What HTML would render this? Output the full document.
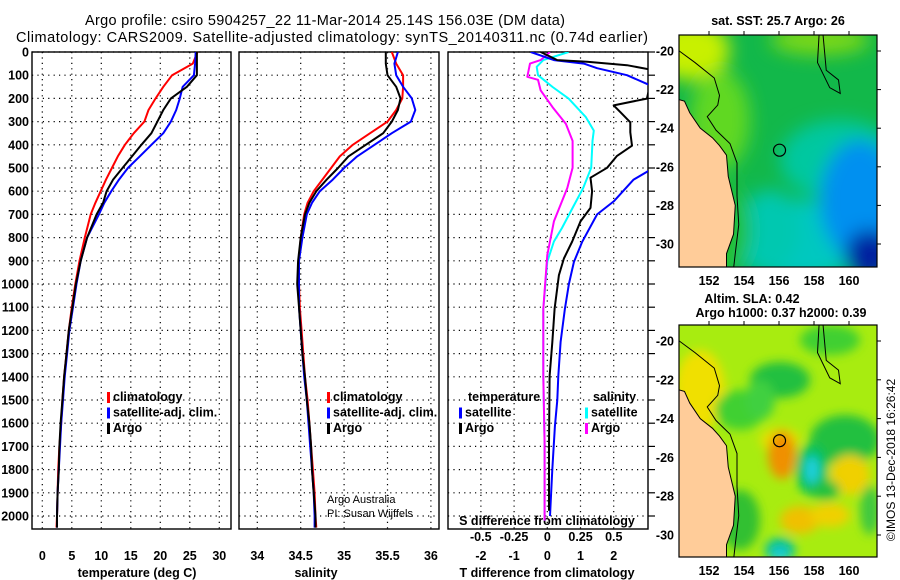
<!DOCTYPE html>
<html><head><meta charset="utf-8"><style>
body{margin:0;background:#fff;}
svg{display:block;font-family:"Liberation Sans",sans-serif;}
.t{font-size:12.5px;font-weight:bold;fill:#000}
</style></head><body>
<svg id="c" width="900" height="580" viewBox="0 0 900 580">
<defs>
<filter id="bl" x="-50%" y="-50%" width="200%" height="200%"><feGaussianBlur stdDeviation="9"/></filter>
<filter id="bl2" x="-50%" y="-50%" width="200%" height="200%"><feGaussianBlur stdDeviation="5"/></filter>
<clipPath id="m1"><rect x="679" y="35" width="198" height="232"/></clipPath>
<clipPath id="m2"><rect x="679" y="325" width="198" height="232"/></clipPath>
<clipPath id="p1"><rect x="32" y="52" width="199" height="477"/></clipPath>
<clipPath id="p2"><rect x="239" y="52" width="200" height="477"/></clipPath>
<clipPath id="p3"><rect x="448" y="52" width="200" height="477"/></clipPath>
</defs>
<text x="325" y="25" text-anchor="middle" font-size="14.5" textLength="480">Argo profile: csiro 5904257_22 11-Mar-2014 25.14S 156.03E (DM data)</text>
<text x="332" y="42" text-anchor="middle" font-size="14.5" textLength="632">Climatology: CARS2009. Satellite-adjusted climatology: synTS_20140311.nc (0.74d earlier)</text>
<g id="g"></g>
</svg>
<script>
// ---- data ----
const tDepth=[0,50,100,150,200,250,300,350,400,450,500,550,600,650,700,800,900,1000,1100,1200,1300,1400,1500,1600,1700,1800,1900,2000,2050];
const tClim=[26.3,25.5,22.0,20.5,19.2,18.0,17.3,15.5,14.0,12.8,11.8,10.8,9.9,9.0,8.2,7.2,6.3,5.6,5.0,4.5,4.1,3.7,3.4,3.2,2.9,2.7,2.6,2.5,2.4];
const tSat=[26.0,25.9,25.7,23.8,23.3,22.7,21.8,20.5,18.5,16.5,14.5,13.0,11.7,10.5,9.6,7.6,6.5,5.8,5.2,4.6,4.2,3.8,3.5,3.2,3.0,2.8,2.6,2.5,2.5];
const tArgo=[26.2,26.2,26.2,24.5,21.8,20.5,19.5,18.5,16.8,15.2,13.6,12.0,10.9,10.3,9.2,7.6,6.5,5.7,5.1,4.5,4.1,3.7,3.4,3.1,2.9,2.8,2.6,2.5,2.5];
const sClim=[35.55,35.6,35.68,35.68,35.67,35.6,35.5,35.3,35.1,34.95,34.85,34.75,34.65,34.58,34.54,34.5,34.48,34.48,34.49,34.51,34.53,34.55,34.58,34.6,34.62,34.64,34.66,34.67,34.68];
const sSat=[35.62,35.58,35.6,35.68,35.78,35.82,35.77,35.55,35.35,35.15,35.0,34.87,34.72,34.63,34.57,34.52,34.48,34.48,34.48,34.5,34.52,34.54,34.57,34.59,34.61,34.63,34.65,34.66,34.66];
const sArgo=[35.48,35.48,35.5,35.6,35.65,35.62,35.55,35.45,35.25,35.05,34.93,34.8,34.68,34.6,34.55,34.5,34.47,34.46,34.48,34.5,34.52,34.55,34.57,34.6,34.62,34.63,34.65,34.67,34.67];
const dTSatDepth=[0,35,50,70,100,150,500,550,644,700,818,905,1000,1107,1250,1397,1500,1614,1800,2000];
const dTSat=[-0.5,0.2,1.1,1.5,2.4,3.2,3.2,2.6,2.0,1.5,1.05,0.8,0.65,0.53,0.4,0.33,0.3,0.23,0.15,0.08];
const dTArgoDepth=[0,35,42,57,78,201,230,259,303,346,404,448,499,542,600,672,730,817,890,962,1107,1252,1397,1687,1977];
const dTArgo=[-0.2,0.3,1.2,2.4,3.2,3.0,2.0,2.2,2.5,2.5,2.55,2.1,1.8,1.3,1.35,1.3,1.0,0.75,0.5,0.35,0.22,0.15,0.07,0.05,0.05];
const dSSatDepth=[0,35,64,100,151,201,281,339,383,499,586,672,759,817,904,1107,1397,1687,2020];
const dSSat=[0.16,-0.03,-0.08,-0.07,0.04,0.16,0.29,0.35,0.34,0.33,0.27,0.19,0.11,0.05,0.0,-0.03,-0.03,-0.02,-0.02];
const dSArgoDepth=[0,35,50,107,120,165,238,310,383,499,586,730,875,1107,1397,1687,2020];
const dSArgo=[0.02,-0.05,-0.13,-0.15,-0.07,-0.05,0.04,0.14,0.19,0.19,0.15,0.05,0.0,-0.03,-0.03,-0.02,-0.02];
const depthTicks=[0,100,200,300,400,500,600,700,800,900,1000,1100,1200,1300,1400,1500,1600,1700,1800,1900,2000];
const tTicks=[0,5,10,15,20,25,30];
const sTicks=[34,34.5,35,35.5,36];
const dTTicks=[-2,-1,0,1,2];
const dSTicks=[-0.5,-0.25,0,0.25,0.5];
const lonTicks=[152,154,156,158,160];
const latTicks=[-20,-22,-24,-26,-28,-30];

const NS='http://www.w3.org/2000/svg';
const G=document.getElementById('g');
function mk(tag,at,parent){const e=document.createElementNS(NS,tag);for(const k in at)e.setAttribute(k,at[k]);(parent||G).appendChild(e);return e;}
const yD=d=>52+d*0.232;
const xT=v=>42.3+v*5.9;
const xS=v=>257.3+(v-34)*86.8;
const xDT=v=>547.3+v*33.2;
const xDS=v=>547.3+v*133;
const xLon=v=>709+(v-152)*17.5;
const yLat=v=>51+(-20-v)*19.3;
const yLat2=v=>341+(-20-v)*19.4;
const TICKY=560, TITLEY=577;

function panel(x0,x1,xs,ticks,name){
  const p=mk('g',{});
  
  
  ticks.forEach(v=>{mk('line',{x1:xs(v),x2:xs(v),y1:52,y2:529,stroke:'#000','stroke-width':1.2,'stroke-dasharray':'1.2 4.2'},p);});
  depthTicks.forEach(d=>{mk('line',{x1:x0,x2:x1,y1:yD(d),y2:yD(d),stroke:'#000','stroke-width':1.2,'stroke-dasharray':'1.2 4.2'},p);});
  const fr=mk('rect',{x:x0,y:52,width:x1-x0,height:477,fill:'none',stroke:'#000','stroke-width':1.4},p);
  
  
  return p;
}
function line(xs,vals,depths,color,clip,name,w){
  const pts=vals.map((v,i)=>xs(v).toFixed(1)+','+yD(depths[i]).toFixed(1)).join(' ');
  const e=mk('polyline',{points:pts,fill:'none',stroke:color,'stroke-width':w||2,'clip-path':'url(#'+clip+')','stroke-linejoin':'round'});
  
  
}
function txt(x,y,s,attrs,name){const e=mk('text',Object.assign({x:x,y:y,class:'t'},attrs||{}));e.textContent=s;return e;}

// panel 1
panel(32,231,xT,tTicks,'temperature-panel');
depthTicks.forEach(d=>txt(29,yD(d)+4.5,String(d),{'text-anchor':'end'},'depth-tick-label'));
tTicks.forEach(v=>txt(xT(v),TICKY,String(v),{'text-anchor':'middle'},'temperature-tick-label'));
txt(137,TITLEY,'temperature (deg C)',{'text-anchor':'middle'},'x-axis-title-temperature');
line(xT,tClim,tDepth,'#f00','p1','temperature-climatology-line');
line(xT,tSat,tDepth,'#00f','p1','temperature-satellite-line');
line(xT,tArgo,tDepth,'#000','p1','temperature-argo-line');
function legend(x,y,items,name){
  items.forEach((it,i)=>{
    const r=mk('rect',{x:x,y:y+i*15.5-9,width:3,height:11,fill:it[1]});
    
    
    txt(x+6,y+i*15.5,it[0],{},name+'-label');
  });
}
legend(107,401,[['climatology','#f00'],['satellite-adj. clim.','#00f'],['Argo','#000']],'temperature-legend-entry');

// panel 2
panel(239,439,xS,sTicks,'salinity-panel');
sTicks.forEach(v=>txt(xS(v),TICKY,String(v),{'text-anchor':'middle'},'salinity-tick-label'));
txt(316,TITLEY,'salinity',{'text-anchor':'middle'},'x-axis-title-salinity');
line(xS,sClim,tDepth,'#f00','p2','salinity-climatology-line');
line(xS,sSat,tDepth,'#00f','p2','salinity-satellite-line');
line(xS,sArgo,tDepth,'#000','p2','salinity-argo-line');
legend(327,401,[['climatology','#f00'],['satellite-adj. clim.','#00f'],['Argo','#000']],'salinity-legend-entry');
txt(327,503,'Argo Australia',{style:'font-weight:normal;font-size:11px'},'credit-argo-australia');
txt(327,517,'PI: Susan Wijffels',{style:'font-weight:normal;font-size:11px'},'credit-pi');

// panel 3
panel(448,648,xDT,[-2,-1,0,1,2],'difference-panel');
depthTicks.forEach(d=>{mk('line',{x1:648,x2:655,y1:yD(d),y2:yD(d),stroke:'#000','stroke-width':1.2});});
dTTicks.forEach(v=>txt(xDT(v),TICKY,String(v),{'text-anchor':'middle'},'t-diff-tick-label'));
dSTicks.forEach(v=>txt(xDS(v),541,String(v),{'text-anchor':'middle'},'s-diff-tick-label'));
txt(547,525,'S difference from climatology',{'text-anchor':'middle'},'s-diff-axis-title');
txt(547,TITLEY,'T difference from climatology',{'text-anchor':'middle'},'t-diff-axis-title');
line(xDS,dSSat,dSSatDepth,'#0ff','p3','salinity-satellite-diff-line');
line(xDS,dSArgo,dSArgoDepth,'#f0f','p3','salinity-argo-diff-line');
line(xDT,dTSat,dTSatDepth,'#00f','p3','temperature-satellite-diff-line');
line(xDT,dTArgo,dTArgoDepth,'#000','p3','temperature-argo-diff-line');
txt(468,401,'temperature',{},'diff-legend-temperature-header');
txt(593,401,'salinity',{},'diff-legend-salinity-header');
legend(459,416.5,[['satellite','#00f'],['Argo','#000']],'diff-legend-temperature-entry');
legend(585,416.5,[['satellite','#0ff'],['Argo','#f0f']],'diff-legend-salinity-entry');

// maps
function coast(yl,clip,name){
  const land=[[150.2,-22.5],[150.6,-22.6],[150.9,-23.2],[151.5,-24],[152.2,-24.5],[152.6,-24.9],[153.0,-25.4],[153.1,-26.5],[153.5,-28],[153.4,-29.5],[153.0,-30.5],[153.0,-31.5],[150.2,-31.5]];
  const e=mk('polygon',{points:land.map(p=>xLon(p[0])+','+yl(p[1])).join(' '),fill:'#fc9','clip-path':'url(#'+clip+')',stroke:'#000','stroke-width':1});
  
  
  const shelf=[[150.3,-20],[151.2,-20.6],[152.3,-21.4],[152.6,-22.3],[152.5,-22.8],[151.9,-23.4],[152.4,-24.1],[153.2,-24.8],[153.6,-25.8],[153.6,-27.5],[153.7,-29],[153.5,-30.5],[153.4,-31.3]];
  const s=mk('polyline',{points:shelf.map(p=>xLon(p[0])+','+yl(p[1])).join(' '),fill:'none',stroke:'#000','stroke-width':1,'clip-path':'url(#'+clip+')'});
  
  
  const reef=[[158.5,-19],[158.7,-21],[159.4,-21.5],[159.5,-22.2],[158.9,-21.9],[158.2,-20.6],[158.3,-19]];
  const r=mk('polyline',{points:reef.map(p=>xLon(p[0])+','+yl(p[1])).join(' '),fill:'none',stroke:'#000','stroke-width':1,'clip-path':'url(#'+clip+')'});
  
  
  const c=mk('circle',{cx:xLon(156.03),cy:yl(-25.14),r:6,fill:'none',stroke:'#000','stroke-width':1.2});
  
  
}
function mapAxes(y0,y1,yl,name){
  const f=mk('rect',{x:679,y:y0,width:198,height:y1-y0,fill:'none',stroke:'#000','stroke-width':1.2});
  
  
  lonTicks.forEach(v=>{mk('line',{x1:xLon(v),x2:xLon(v),y1:y0,y2:y0-4,stroke:'#000'});txt(xLon(v),y1+18,String(v),{'text-anchor':'middle'},name+'-lon-tick');});
  latTicks.forEach(v=>{mk('line',{x1:877,x2:881,y1:yl(v),y2:yl(v),stroke:'#000'});txt(674,yl(v)+4.5,String(v),{'text-anchor':'end'},name+'-lat-tick');});
}
// SST map
const g1=mk('g',{'clip-path':'url(#m1)'});


mk('rect',{x:679,y:35,width:198,height:232,fill:'#12b84a'},g1);
const b1=mk('g',{filter:'url(#bl)'},g1);
[[690,50,40,30,'#c8f000'],[720,120,30,50,'#60d820'],[820,40,50,15,'#7ad818'],[840,160,60,40,'#00c8a0'],[800,240,70,40,'#00c8c0'],[860,200,40,60,'#0090f0'],[870,255,25,25,'#0020a0'],[770,230,30,40,'#00c8b0'],[720,230,30,50,'#20c030']].forEach(a=>mk('ellipse',{cx:a[0],cy:a[1],rx:a[2],ry:a[3],fill:a[4]},b1));
coast(yLat,'m1','sst-map');
mapAxes(35,267,yLat,'sst-map');
txt(778,25,'sat. SST: 25.7 Argo: 26',{'text-anchor':'middle'},'sst-map-title');
// SLA map
const g2=mk('g',{'clip-path':'url(#m2)'});


mk('rect',{x:679,y:325,width:198,height:232,fill:'#a8ec10'},g2);
const b2=mk('g',{filter:'url(#bl2)'},g2);
[[700,390,25,40,'#f0e000'],[780,380,30,18,'#20c040'],[740,410,25,20,'#40d030'],[830,340,30,15,'#40d030'],[845,440,35,25,'#20c040'],[780,440,20,12,'#e8e000'],[782,455,14,24,'#f09000'],[812,470,16,26,'#00c060'],[812,470,7,14,'#20d0e0'],[850,475,20,20,'#f0d000'],[800,520,20,14,'#f0c000'],[830,515,20,12,'#f0d000'],[825,490,15,10,'#20c040'],[870,510,10,25,'#40c840'],[780,550,15,12,'#00c0a0'],[780,555,8,6,'#20d0e0'],[740,520,20,30,'#30c030'],[760,400,15,20,'#40d040']].forEach(a=>mk('ellipse',{cx:a[0],cy:a[1],rx:a[2],ry:a[3],fill:a[4]},b2));
coast(yLat2,'m2','sla-map');
mapAxes(325,557,yLat2,'sla-map');
txt(752,303,'Altim. SLA: 0.42',{'text-anchor':'middle'},'sla-map-title-1');
txt(781,317,'Argo h1000: 0.37 h2000: 0.39',{'text-anchor':'middle'},'sla-map-title-2');
txt(0,0,'©IMOS 13-Dec-2018 16:26:42',{'text-anchor':'middle',transform:'translate(895,460) rotate(-90)',style:'font-weight:normal;font-size:12px'},'imos-timestamp');
</script>
</body></html>
